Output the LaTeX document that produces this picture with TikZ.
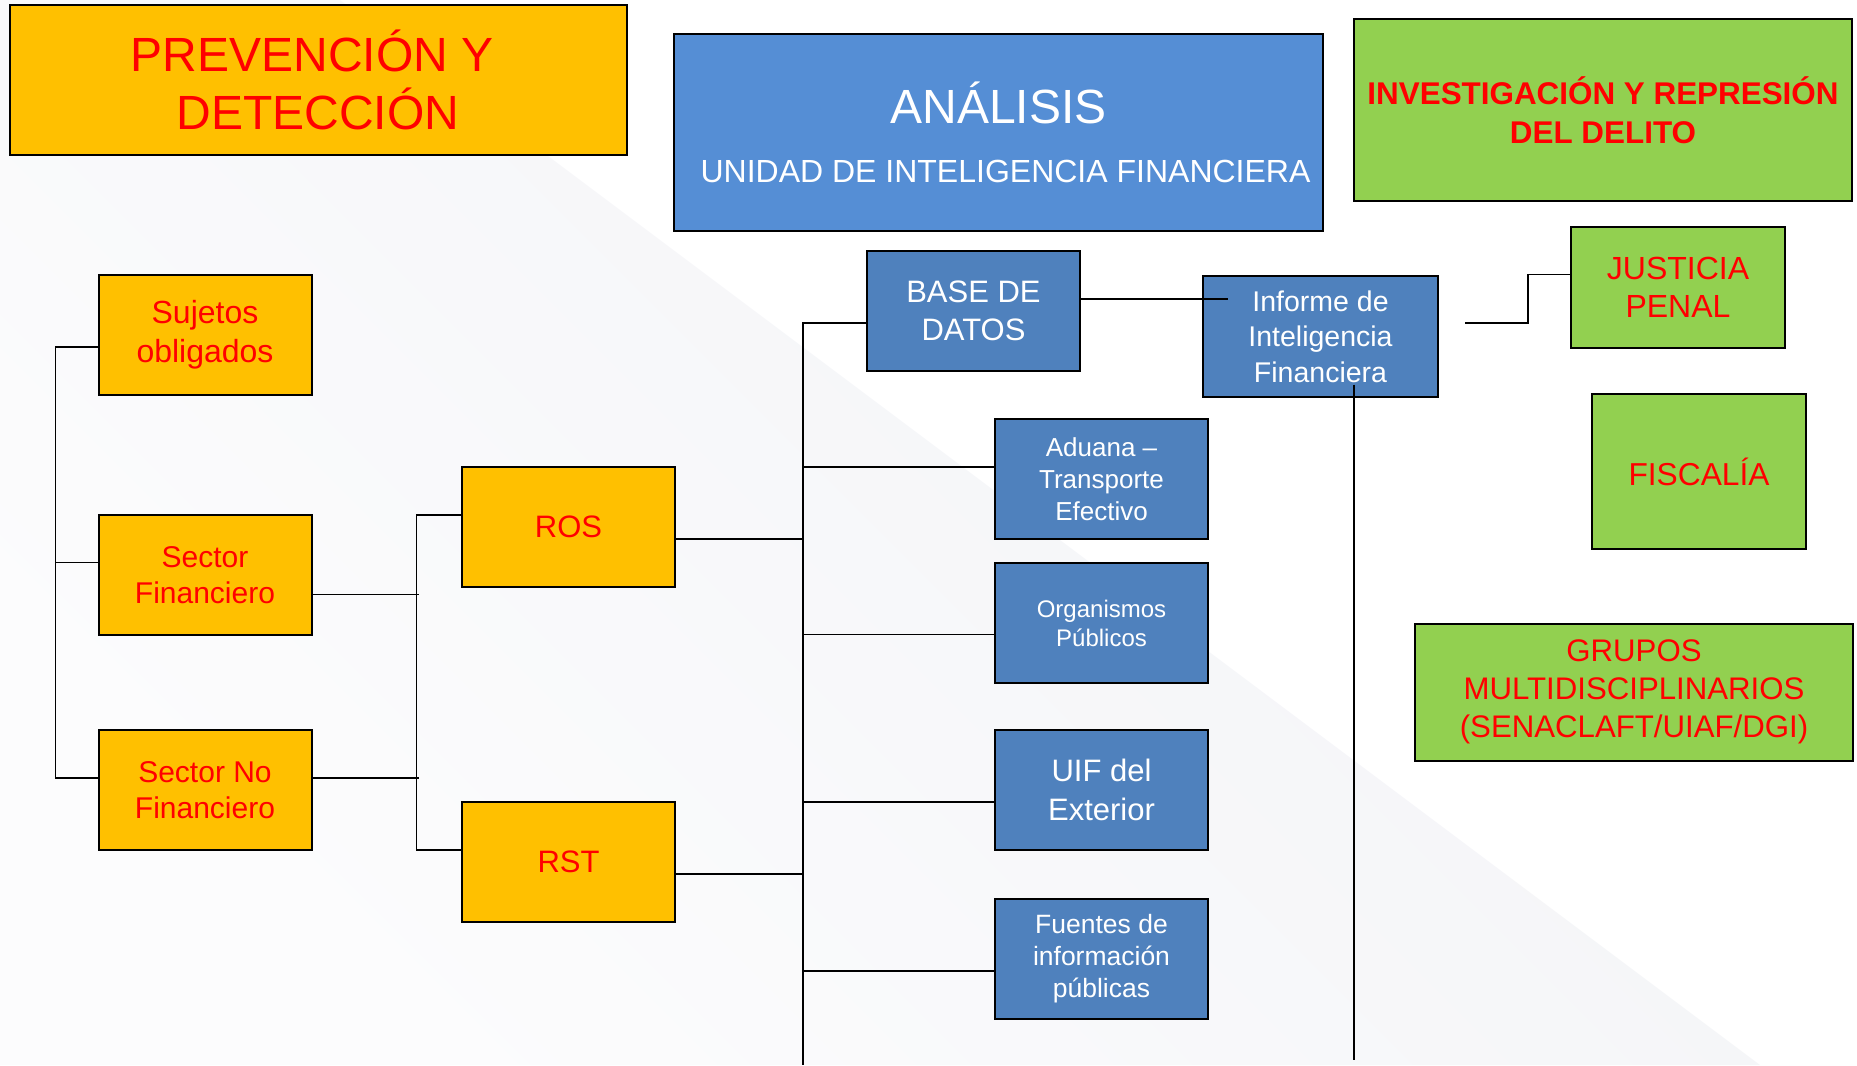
\documentclass[tikz,border=0pt]{standalone}
\usepackage{fontspec}
\setmainfont{Liberation Sans}
\usepackage{tikz}
\usetikzlibrary{positioning}
\usepackage{xcolor}

\definecolor{naranja}{HTML}{FFC000}
\definecolor{azul}{HTML}{4F81BD}
\definecolor{azulclaro}{HTML}{558ED5}
\definecolor{verde}{HTML}{92D050}
\definecolor{rojo}{HTML}{FF0000}
\definecolor{fondo}{HTML}{F2F3F6}
\definecolor{fondoclaro}{HTML}{FCFCFD}

\newcommand{\tamano}[2]{\fontsize{#1}{#2}\selectfont}

\begin{document}
\begin{tikzpicture}[x=1pt, y=-1pt,
  caja/.style = {draw, line width=2pt, inner sep=0pt, align=center},
  amarillo/.style = {caja, fill=naranja, text=rojo, minimum width=213pt, minimum height=120pt, font=\tamano{31}{37}},
  azulito/.style = {caja, fill=azul, text=white, minimum width=213pt, minimum height=120pt},
  verdoso/.style = {caja, fill=verde, text=rojo},
  linea/.style = {line width=1.6pt}]
\useasboundingbox (0,0) rectangle (1857,1065);
\shade[shading=axis, top color=fondo, bottom color=fondoclaro, shading angle=-45] (0,0) -- (340,0) -- (1760,1065) -- (0,1065) -- cycle;

\node[caja, fill=naranja, text=rojo, minimum width=617pt, minimum height=150pt, font=\tamano{48}{58}] (prev) at (318,80) {PREVENCIÓN Y\hspace*{12pt}\\DETECCIÓN};
\node[caja, fill=azulclaro, text=white, minimum width=649pt, minimum height=197pt] (ana) at (998.5,132.5) {\tamano{48}{48}ANÁLISIS\\[35pt]\tamano{32}{32}\hspace*{14pt}UNIDAD DE INTELIGENCIA FINANCIERA};
\node[verdoso, minimum width=498pt, minimum height=181pt, font=\bfseries\tamano{31.4}{39}] (inv) at (1603,110) {INVESTIGACIÓN Y REPRESIÓN\\DEL DELITO};

\node[amarillo, font=\tamano{32}{39}] (suj) at (205,334.5) {Sujetos\\obligados};
\node[amarillo, font=\tamano{30}{35.5}] (fin) at (205,575) {Sector\\Financiero};
\node[amarillo, font=\tamano{30}{35.5}] (nof) at (205,790) {Sector No\\Financiero};
\node[amarillo] (ros) at (568.5,527) {ROS};
\node[amarillo] (rst) at (568.5,862) {RST};

\node[azulito, font=\tamano{31}{38}] (bdd) at (973.5,311) {BASE DE\\DATOS};
\node[azulito, minimum width=235pt, minimum height=121pt, font=\tamano{28.5}{35.5}] (inf) at (1320.5,336.5) {Informe de\\Inteligencia\\Financiera};
\node[azulito, font=\tamano{26}{32}] (adu) at (1101.5,479) {Aduana –\\Transporte\\Efectivo};
\node[azulito, font=\tamano{24}{29}] (org) at (1101.5,623) {Organismos\\Públicos};
\node[azulito, font=\tamano{31}{39}] (uif) at (1101.5,790) {UIF del\\Exterior};
\node[azulito, font=\tamano{26.5}{32}] (fue) at (1101.5,958.5) {Fuentes de\\información\\públicas};

\node[verdoso, minimum width=214.5pt, minimum height=121pt, font=\tamano{32}{38}] (jus) at (1678,287.5) {JUSTICIA\\PENAL};
\node[verdoso, minimum width=214pt, minimum height=155pt, font=\tamano{31.7}{38}] (fis) at (1699,471.5) {FISCALÍA};
\node[verdoso, minimum width=438pt, minimum height=137pt, font=\tamano{31.2}{38}] (gru) at (1634,692) {GRUPOS\\MULTIDISCIPLINARIOS\\(SENACLAFT/UIAF/DGI)};

\coordinate (fin1) at (803,1065);
\coordinate (fin2) at (1354,1060);
\coordinate (ini) at (1465,323);

\draw[linea] ([yshift=-12.5pt]suj.west) -- ++(-42,0) |- ([yshift=12pt]nof.west);
\draw[linea] ([yshift=12.5pt]fin.west) -- ++(-42,0);
\draw[linea] ([yshift=-19.5pt]fin.east) -- ++(106.5,0);
\draw[linea] ([yshift=12pt]nof.east) -- ++(106.5,0);
\draw[linea] ([yshift=12pt]ros.west) -- ++(-44.5,0) |- ([yshift=12pt]rst.west);
\draw[linea] ([yshift=-11.7pt]ros.east) -- ++(128,0);
\draw[linea] ([yshift=-12pt]rst.east) -- ++(128,0);
\draw[linea] ([yshift=-11.7pt]bdd.west) -| (fin1);
\draw[linea] ([yshift=12.3pt]adu.west) -- ++(-192,0);
\draw[linea] ([yshift=-11.5pt]org.west) -- ++(-192,0);
\draw[linea] ([yshift=-12pt]uif.west) -- ++(-192,0);
\draw[linea] ([yshift=-12.5pt]fue.west) -- ++(-192,0);
\draw[linea] ([yshift=12pt]bdd.east) -- ([yshift=37.5pt,xshift=26pt]inf.west);
\draw[linea] ([xshift=33.5pt,yshift=13.5pt]inf.south) -- (fin2);
\draw[linea] (ini) -- ++(63,0) |- ([yshift=13pt]jus.west);
\end{tikzpicture}
\end{document}
